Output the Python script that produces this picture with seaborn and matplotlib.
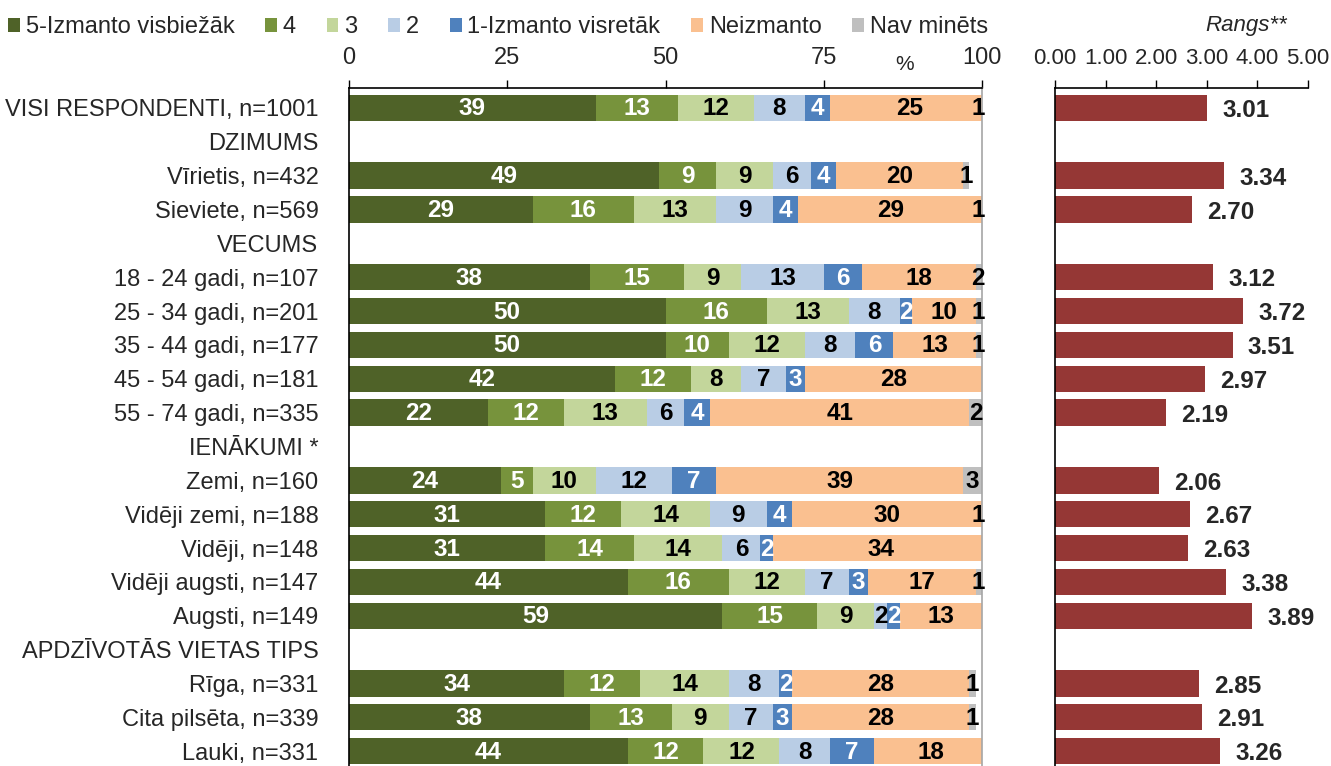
import matplotlib
matplotlib.use("Agg")
import matplotlib.pyplot as plt
from matplotlib import font_manager
from matplotlib.patches import Patch
import seaborn as sns
import pandas as pd

# rows shown on the y axis (headers have no bars)
rows = ["VISI RESPONDENTI, n=1001", "DZIMUMS", "Vīrietis, n=432", "Sieviete, n=569", "VECUMS",
        "18 - 24 gadi, n=107", "25 - 34 gadi, n=201", "35 - 44 gadi, n=177", "45 - 54 gadi, n=181",
        "55 - 74 gadi, n=335", "IENĀKUMI *", "Zemi, n=160", "Vidēji zemi, n=188", "Vidēji, n=148",
        "Vidēji augsti, n=147", "Augsti, n=149", "APDZĪVOTĀS VIETAS TIPS", "Rīga, n=331",
        "Cita pilsēta, n=339", "Lauki, n=331"]

groups = ["VISI RESPONDENTI, n=1001", "Vīrietis, n=432", "Sieviete, n=569",
          "18 - 24 gadi, n=107", "25 - 34 gadi, n=201", "35 - 44 gadi, n=177", "45 - 54 gadi, n=181",
          "55 - 74 gadi, n=335", "Zemi, n=160", "Vidēji zemi, n=188", "Vidēji, n=148",
          "Vidēji augsti, n=147", "Augsti, n=149", "Rīga, n=331", "Cita pilsēta, n=339", "Lauki, n=331"]

series_names = ["5-Izmanto visbiežāk", "4", "3", "2", "1-Izmanto visretāk", "Neizmanto", "Nav minēts"]

often5 = [39, 49, 29, 38, 50, 50, 42, 22, 24, 31, 31, 44, 59, 34, 38, 44]
val4 = [13, 9, 16, 15, 16, 10, 12, 12, 5, 12, 14, 16, 15, 12, 13, 12]
val3 = [12, 9, 13, 9, 13, 12, 8, 13, 10, 14, 14, 12, 9, 14, 9, 12]
val2 = [8, 6, 9, 13, 8, 8, 7, 6, 12, 9, 6, 7, 2, 8, 7, 8]
rare1 = [4, 4, 4, 6, 2, 6, 3, 4, 7, 4, 2, 3, 2, 2, 3, 7]
not_used = [25, 20, 29, 18, 10, 13, 28, 41, 39, 30, 34, 17, 13, 28, 28, 18]
not_said = [1, 1, 1, 2, 1, 1, 0, 2, 3, 1, 0, 1, 0, 1, 1, 0]

rank = [3.01, 3.34, 2.70, 3.12, 3.72, 3.51, 2.97, 2.19, 2.06, 2.67, 2.63, 3.38, 3.89, 2.85, 2.91, 3.26]

colors = ["#4F6228", "#77933C", "#C3D69B", "#B9CDE5", "#4F81BD", "#FAC090", "#BFBFBF"]
text_colors = ["white", "white", "black", "black", "white", "black", "black"]
rank_color = "#953735"

sns.set_theme(style="white")
names = {f.name for f in font_manager.fontManager.ttflist}
narrow = "Liberation Sans Narrow" if "Liberation Sans Narrow" in names else "Liberation Sans"
plt.rcParams['font.family'] = ['Liberation Sans', 'DejaVu Sans']

df = pd.DataFrame({s: v for s, v in zip(series_names,
                   [often5, val4, val3, val2, rare1, not_used, not_said])})
cum = df.cumsum(axis=1)
cum["grupa"] = groups

fig = plt.figure(figsize=(13.31, 7.66), dpi=100)
ax = fig.add_axes([349 / 1331, 0, 633 / 1331, 678 / 766])
ax2 = fig.add_axes([1055 / 1331, 0, 253 / 1331, 678 / 766])

# stacked bars: overlay cumulative totals, largest first
for name, col in reversed(list(zip(series_names, colors))):
    sns.barplot(data=cum, x=name, y="grupa", order=rows, color=col, saturation=1,
                width=0.78, errorbar=None, linewidth=0, orient="h", ax=ax)

pos = {g: rows.index(g) for g in groups}
for i, g in enumerate(groups):
    for j, name in enumerate(series_names):
        v = df[name].iloc[i]
        if v == 0:
            continue
        x = cum[name].iloc[i] - v / 2
        x = min(x, 99.4)
        ax.text(x, pos[g] + 0.03, str(v), ha="center", va="center", color=text_colors[j],
                fontsize=17.5, fontweight="bold", family=narrow)

ax.set_xlim(0, 100)
ax.set_ylim(19.44, -0.59)
ax.set_xlabel("")
ax.set_ylabel("")
ax.xaxis.tick_top()
ax.set_xticks([0, 25, 50, 75, 100])
ax.tick_params(axis="x", top=True, direction="out", length=6, width=1, color="black",
               pad=8, labelsize=17, labelfontfamily=narrow)
ax.tick_params(axis="y", left=False, pad=16, labelsize=17)
ax.spines["bottom"].set_visible(False)
ax.spines["left"].set_color("black")
ax.spines["top"].set_color("black")
ax.spines["right"].set_color("#A6A6A6")
for s in ["left", "top", "right"]:
    ax.spines[s].set_linewidth(1.2)

# rank panel
sns.barplot(x=rank, y=groups, order=rows, color=rank_color, saturation=1, width=0.78,
            errorbar=None, linewidth=0, orient="h", ax=ax2)
for g, v in zip(groups, rank):
    ax2.text(v + 0.3, pos[g] + 0.08, f"{v:.2f}", ha="left", va="center",
             fontsize=17.5, fontweight="bold")
ax2.set_xlim(0, 5)
ax2.set_ylim(19.44, -0.59)
ax2.set_xlabel("")
ax2.set_ylabel("")
ax2.set_yticks([])
ax2.xaxis.tick_top()
ax2.set_xticks([0, 1, 2, 3, 4, 5])
ax2.set_xticklabels([f"{t:.2f}" for t in range(6)])
ax2.tick_params(axis="x", top=True, direction="out", length=6, width=1, color="black",
                pad=8, labelsize=16, labelfontfamily=narrow)
ax2.spines["bottom"].set_visible(False)
ax2.spines["right"].set_visible(False)
for s in ["left", "top"]:
    ax2.spines[s].set_color("black")
    ax2.spines[s].set_linewidth(1.2)

fig.text(905 / 1331, 1 - 64 / 766, "%", ha="center", va="center", fontsize=15)
fig.text(1246 / 1331, 1 - 25 / 766, "Rangs**", ha="center", va="center", fontsize=16,
         style="italic")

handles = [Patch(facecolor=c, edgecolor="none") for c in colors]
fig.legend(handles, series_names, loc="center left", bbox_to_anchor=(8 / 1331, 1 - 27 / 766),
           ncol=7, frameon=False, fontsize=17, handlelength=0.5, handleheight=0.55,
           handletextpad=0.25, columnspacing=1.3, borderpad=0, borderaxespad=0)

fig.savefig("out.png", dpi=100)
